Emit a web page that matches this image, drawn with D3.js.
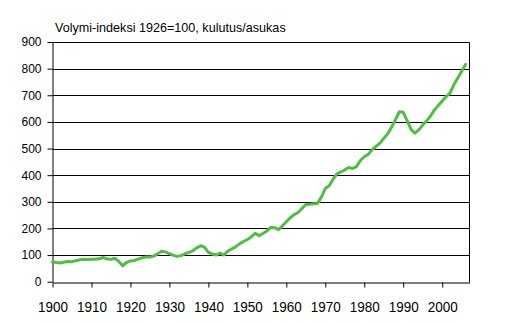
<!DOCTYPE html>
<html>
<head>
<meta charset="utf-8">
<script src="https://cdn.jsdelivr.net/npm/d3@7"></script>
<style>
  html, body { margin: 0; padding: 0; background: #fff; }
  svg { display: block; }
  text { font-family: "Liberation Sans", Arial, sans-serif; fill: #000; }
</style>
</head>
<body>
<svg id="chart" width="506" height="322"></svg>
<script>
// Consumption volume index per inhabitant (1926 = 100), yearly 1900–2006
const years = d3.range(1900, 2007);
const values = [
  75, 72, 70, 74, 76, 75, 79, 82, 84, 83,        // 1900s
  84, 84, 86, 91, 85, 84, 88, 76, 60, 72,        // 1910s
  78, 80, 85, 90, 93, 93, 96, 105, 114, 112,     // 1920s
  105, 99, 95, 98, 105, 110, 116, 127, 135, 130, // 1930s
  110, 104, 100, 107, 100, 115, 123, 131, 142, 151, // 1940s
  158, 168, 182, 173, 181, 190, 204, 203, 195, 210, // 1950s
  225, 240, 252, 260, 275, 290, 291, 293, 294, 318, // 1960s
  350, 360, 385, 405, 412, 420, 429, 425, 432, 455, // 1970s
  469, 478, 495, 508, 520, 538, 555, 580, 608, 638, // 1980s
  636, 605, 572, 558, 570, 588, 604, 622, 645, 662, // 1990s
  678, 695, 708, 740, 765, 790, 816               // 2000s
];
const xTicks = d3.range(1900, 2001, 10);
const yTicks = d3.range(0, 901, 100);
const title = "Volymi-indeksi 1926=100, kulutus/asukas";

const svg = d3.select("#chart");
const plotLeft = 52.5, plotRight = 469.5, plotTop = 42, plotBottom = 281.7;

const x = d3.scaleLinear().domain([1900, 2007]).range([plotLeft, plotRight]);
const y = d3.scaleLinear().domain([0, 900]).range([plotBottom, plotTop]);

// horizontal gridlines
svg.append("g")
  .selectAll("line")
  .data(yTicks.filter(d => d > 0))
  .join("line")
  .attr("x1", plotLeft).attr("x2", plotRight)
  .attr("y1", d => Math.round(y(d)) + 0.5).attr("y2", d => Math.round(y(d)) + 0.5)
  .attr("stroke", "#000").attr("stroke-width", 1);

// right border of plot area
svg.append("line")
  .attr("x1", plotRight).attr("x2", plotRight)
  .attr("y1", Math.round(y(900)) + 0.5).attr("y2", Math.round(plotBottom) + 0.5)
  .attr("stroke", "#000");

// y axis
const yAxis = svg.append("g")
  .attr("transform", `translate(${plotLeft},0)`)
  .call(d3.axisLeft(y).tickValues(yTicks).tickSize(5).tickPadding(6).tickSizeOuter(0));
yAxis.select(".domain").attr("stroke", "#000");
yAxis.selectAll(".tick line").attr("stroke", "#000");
yAxis.selectAll("text").style("font-size", "12px").attr("fill", "#000");

// x axis: year labels are drawn a little taller than wide
const xAxis = svg.append("g")
  .attr("transform", `translate(0,${Math.round(plotBottom) + 0.5})`)
  .call(d3.axisBottom(x).tickValues(xTicks).tickFormat(d3.format("d")).tickSize(5).tickPadding(12).tickSizeOuter(0));
xAxis.select(".domain").attr("stroke", "#000");
xAxis.selectAll(".tick line").attr("stroke", "#000");
xAxis.selectAll("text")
  .style("font-size", "13.5px")
  .attr("fill", "#000")
  .attr("y", 0)
  .attr("dy", 0)
  .attr("transform", "translate(0,29) scale(1,1.15)");

// series line
const line = d3.line()
  .x((d, i) => x(years[i]))
  .y(d => y(d));

svg.append("path")
  .datum(values)
  .attr("d", line)
  .attr("fill", "none")
  .attr("stroke", "#52bd45")
  .attr("stroke-width", 3)
  .attr("stroke-linejoin", "round")
  .attr("stroke-linecap", "round");

// unit title
svg.append("text")
  .attr("x", 55)
  .attr("y", 32)
  .style("font-size", "12.6px")
  .text(title);
</script>
</body>
</html>
